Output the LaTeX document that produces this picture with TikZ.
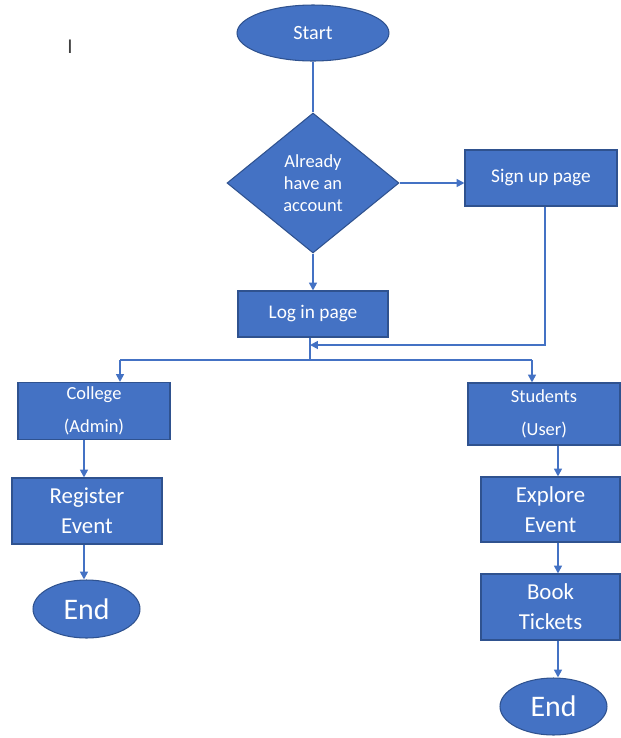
\documentclass[tikz,border=0pt]{standalone}
\usepackage{fontspec}
\setmainfont{Carlito}
\usepackage{xcolor}
\usetikzlibrary{arrows.meta,shapes,positioning}
\definecolor{boxblue}{HTML}{4472C4}
\definecolor{edgeblue}{HTML}{2F528F}

\begin{document}
\begin{tikzpicture}[
  x = 0.02cm, y = -0.02cm,
  > = {Triangle[length=4.5pt,width=4.5pt]},
  term/.style = {ellipse, draw=edgeblue, fill=boxblue, text=white,
                 inner sep=0pt, line width=0.6pt},
  proc/.style = {rectangle, draw=edgeblue, fill=boxblue, text=white,
                 align=center, inner sep=0pt, line width=0.6pt},
  dec/.style  = {diamond, draw=edgeblue, fill=boxblue, text=white,
                 align=center, inner sep=0pt, line width=0.6pt},
  link/.style = {draw=boxblue, line width=1pt}
]
\useasboundingbox (0,0) rectangle (621,738);

\node[text=black!75, font=\fontsize{12}{12}\selectfont] (cursor) at (70,47) {I};

\node[term, minimum width=3.04cm, minimum height=1.12cm,
      font=\fontsize{11.5}{13}\selectfont] (start) at (313,33) {Start};
\node[dec, minimum width=3.44cm, minimum height=2.8cm,
      font=\fontsize{10.5}{12.5}\selectfont] (ask) at (313,183) {Already\\have an\\account};
\node[proc, minimum width=3.04cm, minimum height=1.12cm,
      font=\fontsize{11}{13}\selectfont] (signup) at (541,178) {Sign up page};
\node[proc, minimum width=3.0cm, minimum height=0.92cm,
      font=\fontsize{11}{13}\selectfont] (login) at (313,314) {Log in page};

\node[proc, minimum width=3.04cm, minimum height=1.14cm,
      font=\fontsize{10.5}{18.7}\selectfont] (college) at (94,411) {College\\(Admin)};
\node[proc, minimum width=3.0cm, minimum height=1.32cm,
      font=\fontsize{13}{17}\selectfont] (register) at (87,511) {Register\\Event};
\node[term, minimum width=2.14cm, minimum height=1.16cm,
      font=\fontsize{17}{17}\selectfont] (endL) at (86.5,609) {End};

\node[proc, minimum width=3.04cm, minimum height=1.24cm,
      font=\fontsize{10.5}{18.7}\selectfont] (students) at (544,414) {Students\\(User)};
\node[proc, minimum width=2.78cm, minimum height=1.3cm,
      font=\fontsize{13}{17}\selectfont] (explore) at (550.5,509.5) {Explore\\Event};
\node[proc, minimum width=2.78cm, minimum height=1.32cm,
      font=\fontsize{13}{17}\selectfont] (book) at (550.5,607) {Book\\Tickets};
\node[term, minimum width=2.14cm, minimum height=1.14cm,
      font=\fontsize{17}{17}\selectfont] (endR) at (553.5,706.5) {End};

\coordinate (split) at (310,360);
\coordinate (join)  at (310,345);
\coordinate (lft)   at (120,360);
\coordinate (rgt)   at (532,360);
\coordinate (lcol)  at (84,0);
\coordinate (rcol)  at (558,0);

\draw[link] (start) -- (ask);
\draw[link,->] (ask.east) -- (ask.east -| signup.west);
\draw[link,->] (ask) -- (login);
\draw[link] (login.south -| split) -- (split);
\draw[link,->] ([xshift=0.08cm]signup.south) |- (join);
\draw[link] (lft) -- (rgt);
\draw[link,->] (lft) -- (lft |- college.north);
\draw[link,->] (rgt) -- (rgt |- students.north);

\draw[link,->] (lcol |- college.south) -- (lcol |- register.north);
\draw[link,->] (lcol |- register.south) -- (lcol |- endL.north);
\draw[link,->] (rcol |- students.south) -- (rcol |- explore.north);
\draw[link,->] (rcol |- explore.south) -- (rcol |- book.north);
\draw[link,->] (rcol |- book.south) -- (rcol |- endR.north);
\end{tikzpicture}
\end{document}
